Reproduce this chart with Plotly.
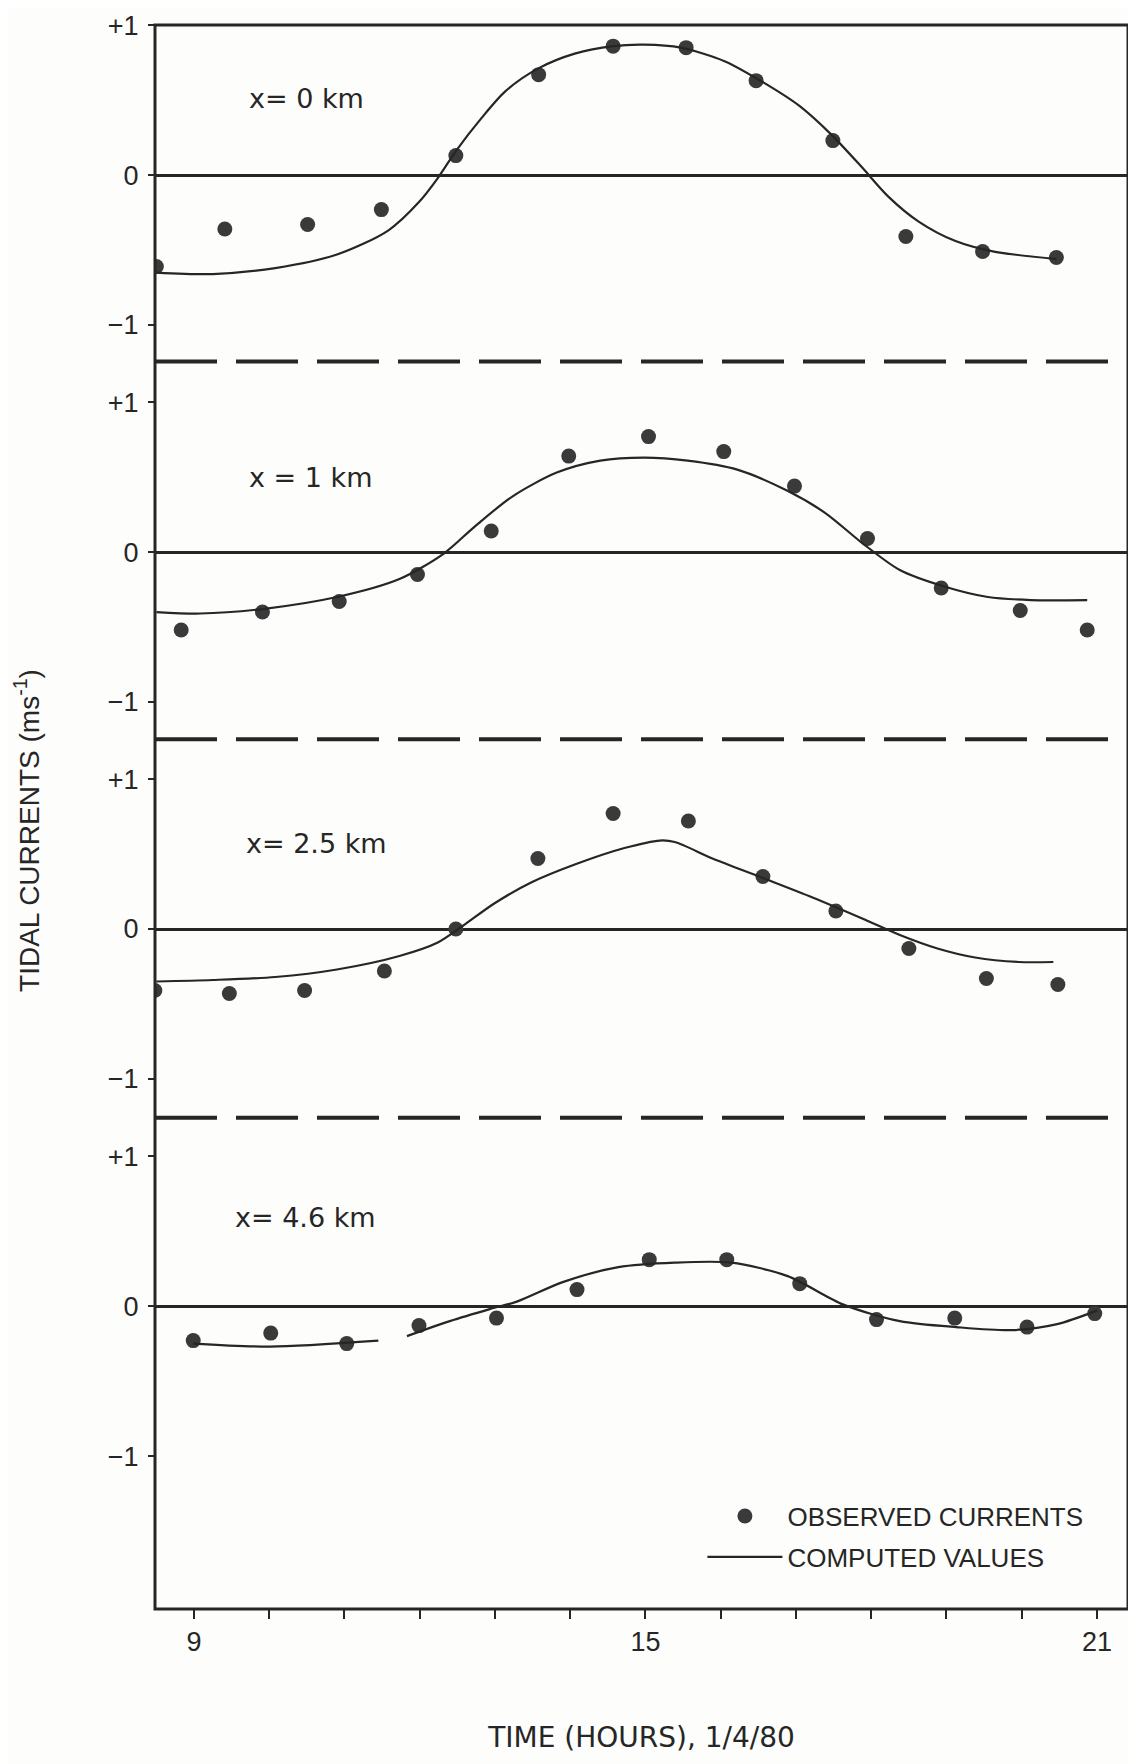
import plotly.graph_objects as go

# ---------------- data (hours, m/s) ----------------
panel_labels = ["x= 0 km", "x = 1 km", "x= 2.5 km", "x= 4.6 km"]

obs_x_0km = [8.50, 9.41, 10.51, 11.49, 12.48, 13.58, 14.57, 15.54, 16.47, 17.49, 18.46, 19.48, 20.46]
obs_y_0km = [-0.61, -0.36, -0.33, -0.23, 0.13, 0.67, 0.86, 0.85, 0.63, 0.23, -0.41, -0.51, -0.55]
comp_x_0km = [8.50, 9.25, 10.08, 10.90, 11.58, 11.99, 12.24, 12.48, 12.82, 13.14, 13.57, 14.06, 14.57,
              14.98, 15.47, 16.05, 16.56, 17.05, 17.47, 17.88, 18.22, 18.63, 19.12, 19.63, 20.46]
comp_y_0km = [-0.65, -0.66, -0.62, -0.53, -0.37, -0.18, -0.02, 0.16, 0.38, 0.56, 0.71, 0.81, 0.86,
              0.87, 0.85, 0.76, 0.62, 0.46, 0.27, 0.05, -0.14, -0.31, -0.44, -0.51, -0.56]

obs_x_1km = [8.83, 9.91, 10.93, 11.97, 12.95, 13.98, 15.04, 16.04, 16.98, 17.95, 18.93, 19.98, 20.87]
obs_y_1km = [-0.52, -0.40, -0.33, -0.15, 0.14, 0.64, 0.77, 0.67, 0.44, 0.09, -0.24, -0.39, -0.52]
comp_x_1km = [8.50, 9.08, 9.91, 10.90, 11.73, 12.32, 12.73, 13.23, 13.82, 14.40, 14.98, 15.56, 16.22,
              16.88, 17.39, 17.88, 18.38, 18.97, 19.55, 20.12, 20.87]
comp_y_1km = [-0.40, -0.41, -0.38, -0.30, -0.18, -0.01, 0.17, 0.37, 0.53, 0.61, 0.63, 0.61, 0.55,
              0.41, 0.26, 0.06, -0.12, -0.23, -0.30, -0.32, -0.32]

obs_x_2_5km = [8.48, 9.47, 10.47, 11.53, 12.48, 13.57, 14.57, 15.57, 16.56, 17.53, 18.50, 19.53, 20.48]
obs_y_2_5km = [-0.41, -0.43, -0.41, -0.28, 0.00, 0.47, 0.77, 0.72, 0.35, 0.12, -0.13, -0.33, -0.37]
comp_x_2_5km = [8.50, 9.25, 10.08, 10.90, 11.73, 12.24, 12.57, 12.99, 13.48, 14.06, 14.72, 15.19, 15.39,
                15.89, 16.56, 17.22, 17.88, 18.38, 18.88, 19.38, 19.96, 20.42]
comp_y_2_5km = [-0.35, -0.34, -0.32, -0.27, -0.18, -0.09, 0.02, 0.17, 0.31, 0.43, 0.54, 0.59, 0.58,
                0.47, 0.34, 0.21, 0.07, -0.04, -0.13, -0.19, -0.22, -0.22]

obs_x_4_6km = [8.99, 10.02, 11.03, 11.99, 13.02, 14.09, 15.05, 16.08, 17.05, 18.07, 19.11, 20.07, 20.97]
obs_y_4_6km = [-0.23, -0.18, -0.25, -0.13, -0.08, 0.11, 0.31, 0.31, 0.15, -0.09, -0.08, -0.14, -0.05]
comp_x_4_6km = [8.99, 10.01, 11.45, None, 11.83, 12.40, 12.93, 13.29, 13.90, 14.64, 15.39, 16.14,
                16.89, 17.63, 18.38, 19.13, 19.87, 20.47, 21.00]
comp_y_4_6km = [-0.25, -0.27, -0.23, None, -0.20, -0.10, -0.02, 0.03, 0.16, 0.26, 0.29, 0.29,
                0.20, 0.01, -0.10, -0.14, -0.16, -0.12, -0.03]

x_tickvals = [9, 10, 11, 12, 13, 14, 15, 16, 17, 18, 19, 20, 21]
x_ticktext = ["9", "", "", "", "", "", "15", "", "", "", "", "", "21"]
y_tickvals = [-1, 0, 1]
y_ticktext = ["\u22121", "0", "+1"]

obs_x = [obs_x_0km, obs_x_1km, obs_x_2_5km, obs_x_4_6km]
obs_y = [obs_y_0km, obs_y_1km, obs_y_2_5km, obs_y_4_6km]
comp_x = [comp_x_0km, comp_x_1km, comp_x_2_5km, comp_x_4_6km]
comp_y = [comp_y_0km, comp_y_1km, comp_y_2_5km, comp_y_4_6km]

# ---------------- layout ----------------
INK = "#262626"
FONT = "Liberation Sans, Arial, Helvetica, sans-serif"
WIDE = "DejaVu Sans, Verdana, sans-serif"
y_ranges = [[-1.243, 1.001], [-1.249, 1.271], [-1.258, 1.265], [-2.02, 1.257]]
label_pos = [(9.70, 0.51), (9.70, 0.50), (9.66, 0.57), (9.52, 0.59)]

spans = [r[1] - r[0] for r in y_ranges]
total = sum(spans)
domains = []
top = 1.0
for s in spans:
    bottom = top - s / total
    domains.append([max(bottom, 0.0), top])
    top = bottom

fig = go.Figure()
for i in range(4):
    yname = "y" if i == 0 else f"y{i+1}"
    fig.add_trace(go.Scatter(
        x=obs_x[i], y=obs_y[i], yaxis=yname, mode="markers",
        marker=dict(color="#3a3a3a", size=15),
        name="OBSERVED CURRENTS", legendgroup="obs", showlegend=(i == 0)))
    fig.add_trace(go.Scatter(
        x=comp_x[i], y=comp_y[i], yaxis=yname, mode="lines",
        line=dict(color=INK, width=2.2, shape="spline", smoothing=0.8),
        name="COMPUTED VALUES", legendgroup="comp", showlegend=(i == 0),
        connectgaps=False))

axis_common = dict(
    tickmode="array", tickvals=y_tickvals, ticktext=y_ticktext,
    ticks="outside", ticklen=6, tickwidth=2, tickcolor=INK, ticklabelstandoff=4,
    tickfont=dict(family=FONT, size=27, color=INK),
    showgrid=False, zeroline=True, zerolinecolor=INK, zerolinewidth=3,
    showline=False, anchor="x", automargin=False,
)
layout_axes = {}
for i in range(4):
    key = "yaxis" if i == 0 else f"yaxis{i+1}"
    layout_axes[key] = dict(axis_common, range=y_ranges[i], domain=domains[i])

shapes = [dict(type="rect", xref="paper", yref="paper", x0=0, x1=1, y0=0, y1=1,
               line=dict(color=INK, width=3), layer="above")]
for i in range(3):
    yb = domains[i][0]
    shapes.append(dict(type="line", xref="paper", yref="paper", x0=0, x1=1.008, y0=yb, y1=yb,
                       line=dict(color=INK, width=4, dash="62px,19px")))

annotations = []
for i in range(4):
    yref = "y" if i == 0 else f"y{i+1}"
    annotations.append(dict(x=label_pos[i][0], y=label_pos[i][1], xref="x", yref=yref,
                            text=panel_labels[i], showarrow=False, xanchor="left", yanchor="middle",
                            font=dict(family=WIDE, size=27, color=INK)))
annotations.append(dict(x=-0.1316, y=0.4918, xref="paper", yref="paper",
                        text="TIDAL CURRENTS (ms<sup>-1</sup>)", textangle=-90, showarrow=False,
                        xanchor="center", yanchor="middle",
                        font=dict(family=FONT, size=28, color=INK)))

# the page adds an 8px body margin, so the figure is 8px smaller than the window
fig.update_layout(
    width=1128, height=1756,
    margin=dict(l=147, r=8, t=17, b=155, autoexpand=False),
    paper_bgcolor="#fdfdfb", plot_bgcolor="#fdfdfb",
    showlegend=True,
    legend=dict(x=0.5626, y=0.0735, xanchor="left", yanchor="top",
                font=dict(family=FONT, size=26, color=INK),
                bgcolor="rgba(0,0,0,0)", traceorder="grouped",
                tracegroupgap=4, itemwidth=75),
    xaxis=dict(range=[8.482, 21.412], tickmode="array", tickvals=x_tickvals, ticktext=x_ticktext,
               ticks="outside", ticklen=9, tickwidth=2, tickcolor=INK,
               tickfont=dict(family=FONT, size=27, color=INK),
               showgrid=False, zeroline=False, showline=False, anchor="y4", automargin=False,
               title=dict(text="TIME (HOURS), 1/4/80", standoff=70,
                          font=dict(family=WIDE, size=28, color=INK))),
    shapes=shapes, annotations=annotations,
    **layout_axes,
)

fig.write_html("out.html")
